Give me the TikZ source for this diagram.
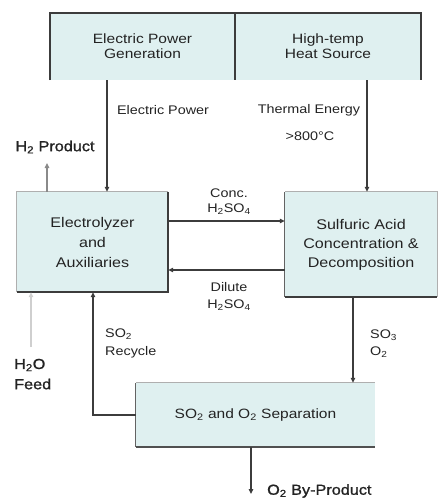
\documentclass[tikz,border=0pt]{standalone}
\usepackage{fontspec}
\setmainfont{Liberation Sans}[FakeStretch=1.15]
\newfontfamily\boldish{Liberation Sans}[FakeStretch=1.12, FakeBold=1.2]
\usetikzlibrary{arrows.meta}
\definecolor{boxfill}{RGB}{223,240,240}
\definecolor{edge}{RGB}{60,60,60}
\definecolor{faint}{RGB}{175,175,175}
\definecolor{txt}{RGB}{35,35,35}
\begin{document}
\begin{tikzpicture}[x=1pt,y=-1pt,
  box/.style={fill=boxfill, draw=none, inner sep=0pt, align=center, text=txt},
  arr/.style={draw=edge, line width=1.1pt, -{Triangle[length=5pt,width=4.5pt]}},
  lab/.style={font=\fontsize{12.5}{15}\selectfont, text=txt, inner sep=0pt, align=left},
  big/.style={font=\boldish\fontsize{14.5}{18}\selectfont, text=txt, inner sep=0pt, align=left}]
\useasboundingbox (0,0) rectangle (439,499);
% boxes
\node[box, minimum width=185pt, minimum height=67pt, font=\fontsize{13.5}{15}\selectfont] (epg) at (142.5,46.5) {Electric Power\\Generation};
\node[box, minimum width=186pt, minimum height=67pt, font=\fontsize{13.5}{15}\selectfont] (hts) at (328,46.5) {High-temp\\Heat Source};
\node[box, minimum width=151pt, minimum height=100pt, font=\fontsize{14}{20}\selectfont] (ely) at (92.5,242) {Electrolyzer\\and\\Auxiliaries};
\node[box, minimum width=152pt, minimum height=105pt, font=\fontsize{14}{19}\selectfont] (sul) at (361,244.5) {Sulfuric Acid\\Concentration \&\\Decomposition};
\node[box, minimum width=239pt, minimum height=64pt, font=\fontsize{13.5}{16}\selectfont] (sep) at (255.5,415) {SO\textsubscript{2} and O\textsubscript{2} Separation};
% box edges
\draw[edge, line width=2pt] (epg.south west) -- (epg.north west) -- (hts.north east) -- (hts.south east);
\draw[edge, line width=1.5pt] (epg.north east) -- (epg.south east);
\draw[faint, line width=0.8pt] (ely.south west) -- (ely.north west) -- (ely.north east);
\draw[edge, line width=2pt] (ely.north east) -- (ely.south east) -- (ely.south west);
\draw[edge!80, line width=1pt] (sul.south west) -- (sul.north west);
\draw[faint, line width=1pt] (sul.north west) -- (sul.north east) -- (sul.south east);
\draw[edge, line width=2pt] (sul.south west) -- (sul.south east);
\draw[edge!80, line width=1pt] (sep.south west) -- (sep.north west);
\draw[faint, line width=1pt] (sep.north west) -- (sep.north east);
\draw[edge!90, line width=2pt] (sep.south west) -- (sep.south east);
% helper coordinates
\coordinate (xep) at (107,0);
\coordinate (xte) at (367,0);
\coordinate (xh2) at (47,0);
\coordinate (xw) at (31,0);
\coordinate (xrc) at (93,0);
\coordinate (xso) at (353,0);
\coordinate (xo2) at (251,0);
\coordinate (yconc) at (0,221);
\coordinate (ydil) at (0,270);
\coordinate (h2end) at (47,163);
\coordinate (wstart) at (31,347);
\coordinate (rccorner) at (93,415);
\coordinate (o2end) at (251,494);
% connectors
\draw[arr] (epg.south -| xep) -- (ely.north -| xep);
\draw[arr] (hts.south -| xte) -- (sul.north -| xte);
\draw[arr] (ely.east |- yconc) -- (sul.west |- yconc);
\draw[arr] (sul.west |- ydil) -- (ely.east |- ydil);
\draw[arr, draw=edge!60] (ely.north -| xh2) -- (h2end);
\draw[arr, draw=faint!60, line width=2pt] (wstart) -- (ely.south -| xw);
\draw[arr] (sep.west) -- (rccorner) -- (ely.south -| xrc);
\draw[arr] (sul.south -| xso) -- (sep.north -| xso);
\draw[arr] (sep.south -| xo2) -- (o2end);
% labels
\node[lab] (lep) at (163,110) {Electric Power};
\node[lab] (lte) at (309,110) {Thermal Energy};
\node[lab] (ltt) at (310,136) {>800°C};
\node[big] (lh2) at (55,147) {H\textsubscript{2} Product};
\node[lab] (lc1) at (229,193) {Conc.};
\node[lab] (lc2) at (229,209) {H\textsubscript{2}SO\textsubscript{4}};
\node[lab] (ld1) at (229,287) {Dilute};
\node[lab] (ld2) at (229,305) {H\textsubscript{2}SO\textsubscript{4}};
\node[lab, anchor=west] (lr1) at (105,334) {SO\textsubscript{2}};
\node[lab, anchor=west] (lr2) at (105,352) {Recycle};
\node[lab, anchor=west] (ls1) at (370,335) {SO\textsubscript{3}};
\node[lab, anchor=west] (ls2) at (370,352) {O\textsubscript{2}};
\node[big, anchor=west] (lw1) at (14,365) {H\textsubscript{2}O};
\node[big, anchor=west] (lw2) at (14,384) {Feed};
\node[big, anchor=west] (lo2) at (267,491) {O\textsubscript{2} By-Product};
\end{tikzpicture}
\end{document}
